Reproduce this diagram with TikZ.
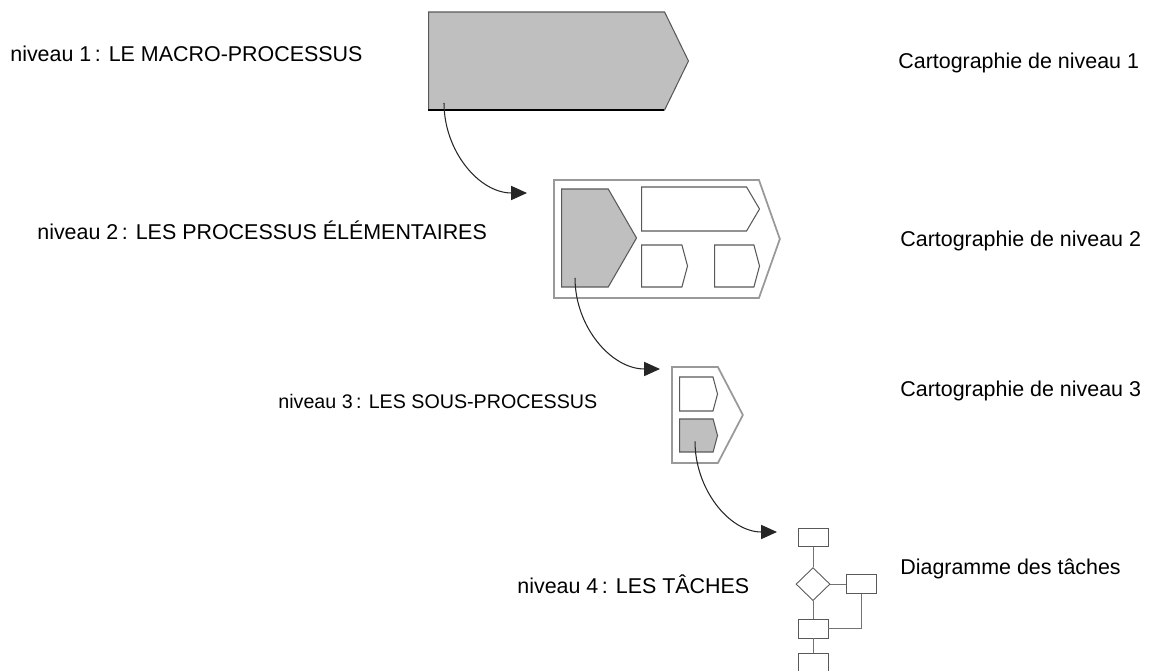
\documentclass[tikz,border=0pt]{standalone}
\usepackage{fontspec}
\setmainfont{Liberation Sans}
\usetikzlibrary{arrows.meta, positioning, shapes.geometric, shapes.symbols}

\begin{document}
\begin{tikzpicture}[
  x=0.02cm, y=-0.02cm,
  node distance=0.36cm,
  lbl/.style={anchor=base west, inner sep=0pt, font=\fontsize{12.2}{14}\selectfont},
  chev/.style={signal, signal to=east, draw=black!65, line width=0.6pt, inner sep=0pt, anchor=west},
  greyfill/.style={fill=black!25},
  outerbox/.style={chev, draw=black!40, line width=1pt, fill=white},
  link/.style={-{Triangle[length=9pt, width=8pt]}, draw=black!85, line width=0.6pt},
  task/.style={rectangle, draw=black!65, line width=0.5pt, minimum width=0.6cm, minimum height=0.37cm, inner sep=0pt},
  choice/.style={diamond, draw=black!65, line width=0.5pt, minimum width=0.68cm, minimum height=0.66cm, inner sep=0pt},
  wire/.style={draw=black!55, line width=0.5pt},
]
  \useasboundingbox (0,0) rectangle (1155,671);

  % niveau 1
  \node[chev, greyfill, minimum width=5.2cm, minimum height=1.96cm, signal pointer angle=128] (macro) at (428,61) {};
  \draw[black, line width=1pt] (428,110) -- (664,110);

  % niveau 2
  \node[outerbox, minimum width=4.52cm, minimum height=2.36cm, signal pointer angle=141] (map2) at (553,239) {};
  \node[chev, greyfill, minimum width=1.5cm, minimum height=1.96cm, signal pointer angle=120] (p1) at (561,238) {};
  \node[chev, minimum width=2.36cm, minimum height=0.88cm, signal pointer angle=119] (p2) at (641,209) {};
  \node[chev, minimum width=0.92cm, minimum height=0.84cm, signal pointer angle=150] (p3) at (641,266) {};
  \node[chev, minimum width=0.9cm, minimum height=0.84cm, signal pointer angle=150] (p4) at (714,266) {};

  % niveau 3
  \node[outerbox, minimum width=1.42cm, minimum height=1.92cm, signal pointer angle=125] (map3) at (671,415) {};
  \node[chev, minimum width=0.76cm, minimum height=0.68cm, signal pointer angle=150] (s1) at (679,394) {};
  \node[chev, greyfill, minimum width=0.76cm, minimum height=0.66cm, signal pointer angle=150] (s2) at (679,435.5) {};

  % niveau 4
  \node[task] (t1) at (813,537.5) {};
  \node[choice, below=0.4cm of t1] (d1) {};
  \node[task, right=0.32cm of d1] (t2) {};
  \node[task, below=0.36cm of d1] (t3) {};
  \node[task, minimum height=0.36cm, below=0.3cm of t3] (t4) {};

  \draw[wire] (t1) -- (d1);
  \draw[wire] (d1) -- (t2);
  \draw[wire] (d1) -- (t3);
  \draw[wire] (t3) -- (t4);
  \draw[wire] (t2.south) |- (t3.east);

  % liens entre niveaux
  \coordinate (in2) at (527,193);
  \coordinate (in3) at (660,369);
  \coordinate (in4) at (777,532);
  \draw[link] ([shift={(16,42)}]macro.west) to[out=-90, in=180] (in2);
  \draw[link] ([shift={(14,40)}]p1.west) to[out=-90, in=180] (in3);
  \draw[link] ([shift={(16,6)}]s2.west) to[out=-90, in=180] (in4);

  % textes
  \node[lbl] (n1) at (10,62) {niveau 1\,: LE MACRO-PROCESSUS};
  \node[lbl] (n2) at (37,240) {niveau 2\,: LES PROCESSUS ÉLÉMENTAIRES};
  \node[lbl, font=\fontsize{11.2}{14}\selectfont] (n3) at (278,409) {niveau 3\,: LES SOUS-PROCESSUS};
  \node[lbl] (n4) at (517,593) {niveau 4\,: LES TÂCHES};
  \node[lbl] (c1) at (898,69) {Cartographie de niveau 1};
  \node[lbl] (c2) at (900,247) {Cartographie de niveau 2};
  \node[lbl] (c3) at (900,397) {Cartographie de niveau 3};
  \node[lbl] (c4) at (900,574) {Diagramme des tâches};
\end{tikzpicture}
\end{document}
